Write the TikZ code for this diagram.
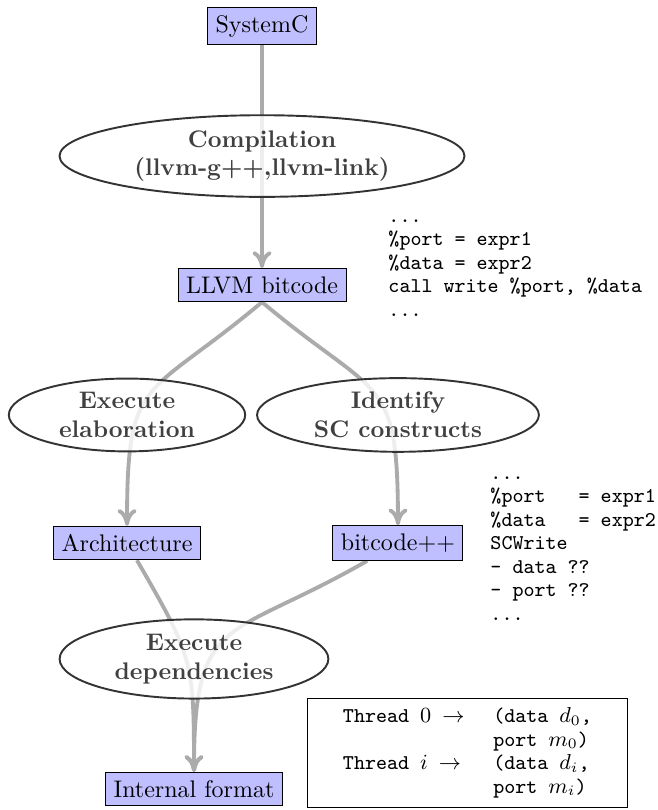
\documentclass[tikz,border=0pt]{standalone}
\usepackage{amssymb}
\usepackage{amsmath}
\usetikzlibrary{arrows.meta,backgrounds,shapes.geometric}

\begin{document}
\begin{tikzpicture}[
    datum/.style={draw, fill=blue!25},
    phase/.style={ellipse, draw=black!80, thick, fill=white, fill opacity=0.8,
      text opacity=1, text=black!75, font=\bfseries, align=center,
      inner xsep=6.5pt, inner ysep=1.3pt},
    flow/.style={-{To[length=7pt, width=8pt]}, draw=black!33, line width=1.6pt, looseness=1.5},
    listing/.style={font=\fontsize{8.75pt}{9.8pt}\selectfont\ttfamily, inner sep=0pt}
  ]
    \useasboundingbox (0,0) rectangle (9.622,-11.862);
    \node[datum] (sysc) at (3.837,-0.381) {SystemC};
    \node[phase] (comp) at (3.837,-2.285) {Compilation\\(llvm-g++,llvm-link)};
    \node[datum] (llvm) at (3.837,-4.174) {LLVM bitcode};
    \node[phase] (elab) at (1.860,-6.077) {Execute\\elaboration};
    \node[phase] (ident) at (5.828,-6.077) {Identify\\SC constructs};
    \node[datum] (arch) at (1.860,-7.952) {Architecture};
    \node[datum] (bpp) at (5.828,-7.952) {bitcode++};
    \node[phase] (deps) at (2.841,-9.650) {Execute\\dependencies};
    \node[datum] (intf) at (2.841,-11.554) {Internal format};
    % code listings beside the flow
    \node[listing, anchor=base west] (irtext) at (5.682,-3.251)
      {\begin{tabular}[t]{@{}l@{}}
        ...\\
        \%port = expr1\\
        \%data = expr2\\
        call write \%port, \%data\\
        ...
      \end{tabular}};
    \node[listing, anchor=base west] (sctext) at (7.176,-7.015)
      {\begin{tabular}[t]{@{}l@{}}
        ...\\
        \%port\ \ \ = expr1\\
        \%data\ \ \ = expr2\\
        SCWrite\\
        - data ??\\
        - port ??\\
        ...
      \end{tabular}};
    \node[listing, draw, minimum width=4.70cm, minimum height=1.596cm] (threads) at (6.846,-11.034)
      {\begin{tabular}{ll}
        Thread $0$ $\rightarrow$ & (data $d_0$,\\
        & port $m_0$)\\
        Thread $i$ $\rightarrow$ & (data $d_i$,\\
        & port $m_i$)
      \end{tabular}};
    \begin{pgfonlayer}{background}
      \draw[flow] (sysc) -- (llvm);
      \draw[flow] (llvm.south) to[out=-140, in=90] (arch);
      \draw[flow] (llvm.south) to[out=-40, in=90] (bpp);
      \draw[flow, looseness=1.3] (arch) to[out=-60, in=90] (intf);
      \draw[flow] (bpp) to[out=-150, in=90] (intf);
    \end{pgfonlayer}
\end{tikzpicture}
\end{document}
